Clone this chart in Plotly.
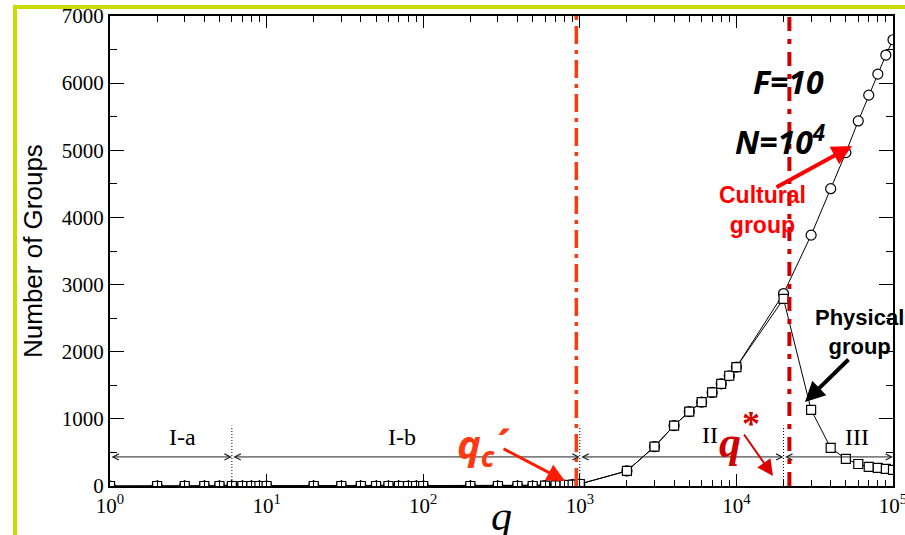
import math
import plotly.graph_objects as go

# ---------------- data ----------------
q_values = [1, 2, 3, 4, 5, 6, 7, 8, 9, 10,
            20, 30, 40, 50, 60, 70, 80, 90, 100,
            200, 300, 400, 500, 600, 700, 800, 900, 1000,
            2000, 3000, 4000, 5000, 6000, 7000, 8000, 9000, 10000,
            20000, 30000, 40000, 50000, 60000, 70000, 80000, 90000, 100000]

physical_groups = [0, 0, 0, 0, 0, 0, 0, 0, 0, 0,
                   0, 0, 0, 0, 0, 0, 0, 0, 0,
                   0, 0, 0, 0, 5, 10, 15, 20, 30,
                   224, 587, 900, 1109, 1249, 1393, 1522, 1642, 1771,
                   2786, 1134, 567, 403, 328, 284, 269, 254, 239]

cultural_groups = [0, 0, 0, 0, 0, 0, 0, 0, 0, 0,
                   0, 0, 0, 0, 0, 0, 0, 0, 0,
                   0, 0, 0, 0, 5, 10, 15, 20, 30,
                   224, 587, 900, 1109, 1249, 1393, 1522, 1642, 1771,
                   2866, 3736, 4428, 4965, 5437, 5821, 6134, 6418, 6646]

region_bounds = [1, 6, 1000, 20000, 100000]
region_labels = ["I-a", "I-b", "II", "III"]
region_level = 433
boundary_top = 900
qc_prime = 950
q_star = 21800

x_tickvals = [1, 10, 100, 1000, 10000, 100000]
x_ticktext = ["10<sup>0</sup>", "10<sup>1</sup>", "10<sup>2</sup>",
              "10<sup>3</sup>", "10<sup>4</sup>", "10<sup>5</sup>"]
x_minor_vals = [m * 10 ** k for k in range(5) for m in range(2, 10)]
y_tickvals = [0, 1000, 2000, 3000, 4000, 5000, 6000, 7000]

# ---------------- layout geometry (pixels) ----------------
W, H = 905, 535
L, R, T, B = 110, 893, 16, 486


def px(x):
    return (x - L) / (R - L)


def py(y):
    return (B - y) / (B - T)


fig = go.Figure()

# cultural groups (circles)
fig.add_trace(go.Scatter(
    x=q_values, y=cultural_groups, mode="lines+markers",
    line=dict(color="black", width=1),
    marker=dict(symbol="circle", size=10, color="white",
                line=dict(color="black", width=1.2)),
    showlegend=False))
# physical groups (squares)
fig.add_trace(go.Scatter(
    x=q_values, y=physical_groups, mode="lines+markers",
    line=dict(color="black", width=1),
    marker=dict(symbol="square", size=9, color="white",
                line=dict(color="black", width=1.2)),
    showlegend=False))

# dotted region boundaries
for b in region_bounds[1:-1]:
    fig.add_trace(go.Scatter(
        x=[b, b], y=[0, boundary_top], mode="lines",
        line=dict(color="black", width=1, dash="1px,2px"),
        showlegend=False, hoverinfo="skip"))

# vertical critical lines
fig.add_trace(go.Scatter(
    x=[qc_prime, qc_prime], y=[0, 7000], mode="lines",
    line=dict(color="#ff3a10", width=3.5, dash="18px,6px,4px,6px"),
    showlegend=False, hoverinfo="skip"))
fig.add_trace(go.Scatter(
    x=[q_star, q_star], y=[0, 7000], mode="lines",
    line=dict(color="#cc0000", width=4, dash="14px,8px,5px,8px"),
    showlegend=False, hoverinfo="skip"))

annotations = []
# double-headed region arrows and labels
for i in range(len(region_bounds) - 1):
    a, b = region_bounds[i], region_bounds[i + 1]
    annotations.append(dict(
        x=math.log10(b), y=region_level, ax=math.log10(a), ay=region_level,
        xref="x", yref="y", axref="x", ayref="y", text="",
        showarrow=True, arrowhead=5, startarrowhead=5, arrowside="end+start",
        arrowwidth=1, arrowsize=1.2, startarrowsize=1.2, arrowcolor="#222"))

label_px = [(182, 437), (402, 437), (710, 435), (857, 437)]
for lab, (lx, ly) in zip(region_labels, label_px):
    annotations.append(dict(
        x=px(lx), y=py(ly), xref="paper", yref="paper", text=lab,
        showarrow=False, xanchor="center", yanchor="middle",
        font=dict(family="Liberation Serif", size=24, color="black")))

# F and N
annotations.append(dict(
    x=px(788), y=py(82), xref="paper", yref="paper", text="F=10",
    showarrow=False, xanchor="center", yanchor="middle",
    font=dict(family="Noto Sans", size=32, color="black",
              weight="bold", style="italic")))
annotations.append(dict(
    x=px(780), y=py(140), xref="paper", yref="paper", text="N=10<sup>4</sup>",
    showarrow=False, xanchor="center", yanchor="middle",
    font=dict(family="Noto Sans", size=32, color="black",
              weight="bold", style="italic")))

# Cultural group
annotations.append(dict(
    x=px(762), y=py(210), xref="paper", yref="paper", text="Cultural<br>group",
    showarrow=False, xanchor="center", yanchor="middle",
    font=dict(family="Liberation Sans", size=23, color="#ff0000", weight="bold")))
annotations.append(dict(
    x=px(852), y=py(146), xref="paper", yref="paper", text="",
    showarrow=True, ax=-77, ay=42, arrowhead=2, arrowsize=1,
    arrowwidth=4, arrowcolor="#ff0000"))

# Physical group
annotations.append(dict(
    x=px(859), y=py(332), xref="paper", yref="paper", text="Physical<br>group",
    showarrow=False, xanchor="center", yanchor="middle",
    font=dict(family="Liberation Sans", size=22, color="black", weight="bold")))
annotations.append(dict(
    x=px(805), y=py(402), xref="paper", yref="paper", text="",
    showarrow=True, ax=45, ay=-44, arrowhead=2, arrowsize=1,
    arrowwidth=4, arrowcolor="black"))

# q_c'
annotations.append(dict(
    x=px(483), y=py(445), xref="paper", yref="paper", text="q<sub>c</sub>´",
    showarrow=False, xanchor="center", yanchor="middle",
    font=dict(family="Noto Sans", size=40, color="#ff3a10",
              weight="bold", style="italic")))
annotations.append(dict(
    x=px(565), y=py(481), xref="paper", yref="paper", text="",
    showarrow=True, ax=-63, ay=-33, arrowhead=2, arrowsize=1.2,
    arrowwidth=3, arrowcolor="#ff1a00"))

# q*
annotations.append(dict(
    x=px(730), y=py(442), xref="paper", yref="paper", text="q",
    showarrow=False, xanchor="center", yanchor="middle",
    font=dict(family="Liberation Serif", size=44, color="#d00000",
              weight="bold", style="italic")))
annotations.append(dict(
    x=px(751), y=py(424), xref="paper", yref="paper", text="*",
    showarrow=False, xanchor="center", yanchor="middle",
    font=dict(family="Liberation Serif", size=36, color="#d00000",
              weight="bold")))
annotations.append(dict(
    x=px(773), y=py(476), xref="paper", yref="paper", text="",
    showarrow=True, ax=-30, ay=-43, arrowhead=2, arrowsize=1.6,
    arrowwidth=2, arrowcolor="#dd0000"))

# axis titles
annotations.append(dict(
    x=px(33), y=py(251), xref="paper", yref="paper", text="Number of Groups",
    showarrow=False, textangle=-90, xanchor="center", yanchor="middle",
    font=dict(family="Liberation Sans", size=26, color="black")))
annotations.append(dict(
    x=px(501), y=py(516), xref="paper", yref="paper", text="q",
    showarrow=False, xanchor="center", yanchor="middle",
    font=dict(family="Liberation Serif", size=42, color="black", style="italic")))

# yellow-green frame
frame_color = "#c8dc00"
shapes = [
    dict(type="line", xref="paper", yref="paper", x0=px(13), x1=px(910),
         y0=py(7), y1=py(7), line=dict(color=frame_color, width=4)),
    dict(type="line", xref="paper", yref="paper", x0=px(15), x1=px(15),
         y0=py(5), y1=py(540), line=dict(color=frame_color, width=4)),
]

fig.update_layout(
    width=W, height=H,
    margin=dict(l=L, r=W - R, t=T, b=H - B, autoexpand=False),
    paper_bgcolor="white", plot_bgcolor="white",
    annotations=annotations, shapes=shapes,
    showlegend=False,
    font=dict(family="Liberation Serif", color="black"),
)

fig.update_xaxes(
    type="log", range=[0, 5], showgrid=False, zeroline=False, automargin=False,
    showline=True, linecolor="black", linewidth=2, mirror="allticks",
    ticks="inside", ticklen=12, tickwidth=1.3, tickcolor="black",
    tickmode="array", tickvals=x_tickvals, ticktext=x_ticktext,
    ticklabeloverflow="allow",
    tickfont=dict(family="Liberation Serif", size=21, color="black"),
    minor=dict(ticks="inside", ticklen=6, tickwidth=1, tickcolor="black",
               tickmode="array", tickvals=x_minor_vals, showgrid=False),
)
fig.update_yaxes(
    range=[0, 7000], showgrid=False, zeroline=False, automargin=False,
    showline=True, linecolor="black", linewidth=2, mirror="allticks",
    ticks="inside", ticklen=14, tickwidth=1.3, tickcolor="black",
    tickmode="array", tickvals=y_tickvals, ticklabeloverflow="allow",
    tickfont=dict(family="Liberation Serif", size=21, color="black"),
    minor=dict(ticks="inside", ticklen=7, tickwidth=1, tickcolor="black",
               dtick=500, showgrid=False),
)

fig.write_html(
    "out.html",
    config={"displayModeBar": False},
    post_script="document.body.style.margin='0';document.body.style.overflow='hidden';",
)
